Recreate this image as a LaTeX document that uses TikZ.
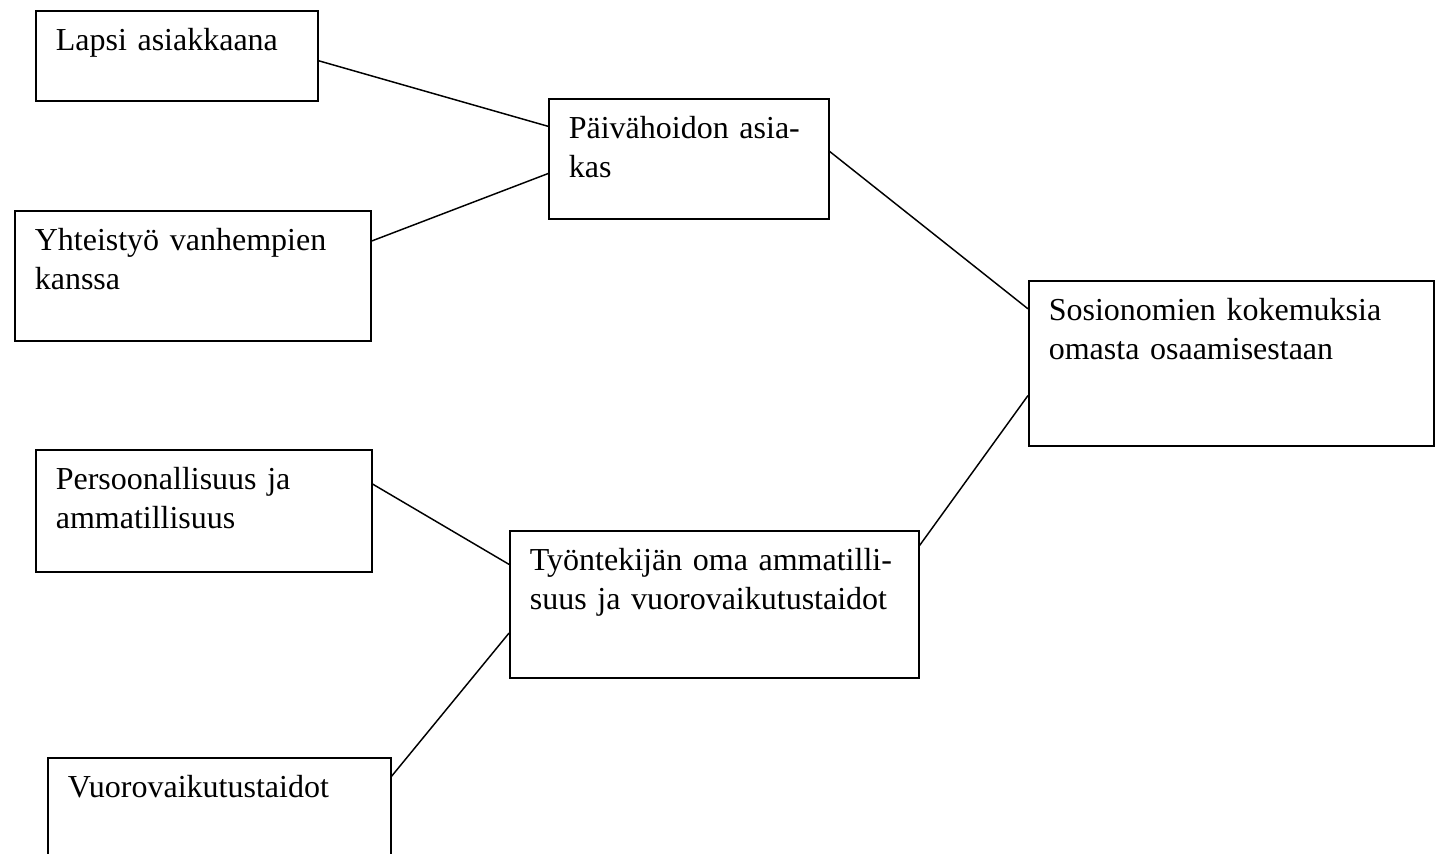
\documentclass[tikz,border=0pt]{standalone}
\usepackage{fontspec}
\setmainfont{Liberation Serif}

\begin{document}
\begin{tikzpicture}[x=0.375pt,y=-0.375pt]
		\tikzset{laatikko/.style 2 args={draw,line width=0.6pt,anchor=north west,align=left,
				inner xsep=7.5pt,inner ysep=0pt,text height=15pt,text width=#1,text depth=#2,
				font=\fontsize{12}{14.5}\selectfont},
			yhteys/.style={draw,line width=0.55pt}}
		\useasboundingbox (0,0) rectangle (1436,854);
		\clip (0,0) rectangle (1436,854);
		
		\node [laatikko={90.75pt}{18.75pt}] (lapsi) at (35,10) {Lapsi asiakkaana};
		\node [laatikko={90pt}{30pt}] (paiva) at (548,98) {Päivähoidon asia-\\kas};
		\node [laatikko={118.5pt}{33.75pt}] (yhteis) at (14,210) {Yhteistyö vanhempien\\kanssa};
		\node [laatikko={136.9pt}{46.9pt}] (sosio) at (1028,280) {Sosionomien kokemuksia\\omasta osaamisestaan};
		\node [laatikko={111pt}{30.75pt}] (persoona) at (35,449) {Persoonallisuus ja\\ammatillisuus};
		\node [laatikko={138.4pt}{40.1pt}] (tyontek) at (509,530) {Työntekijän oma ammatilli-\\suus ja vuorovaikutustaidot};
		\node [laatikko={113.6pt}{31.1pt}] (vuoro) at (47,757) {Vuorovaikutustaidot};
		
		\path[yhteys] (lapsi.-2) -- (paiva.167);
		\path[yhteys] (yhteis.11) -- (paiva.186);
		\path[yhteys] (paiva.3) -- (sosio.165);
		\path[yhteys] (tyontek.16) -- (sosio.189);
		\path[yhteys] (persoona.9) -- (tyontek.169);
		\path[yhteys] (vuoro.14) -- (tyontek.188);
\end{tikzpicture}
\end{document}
